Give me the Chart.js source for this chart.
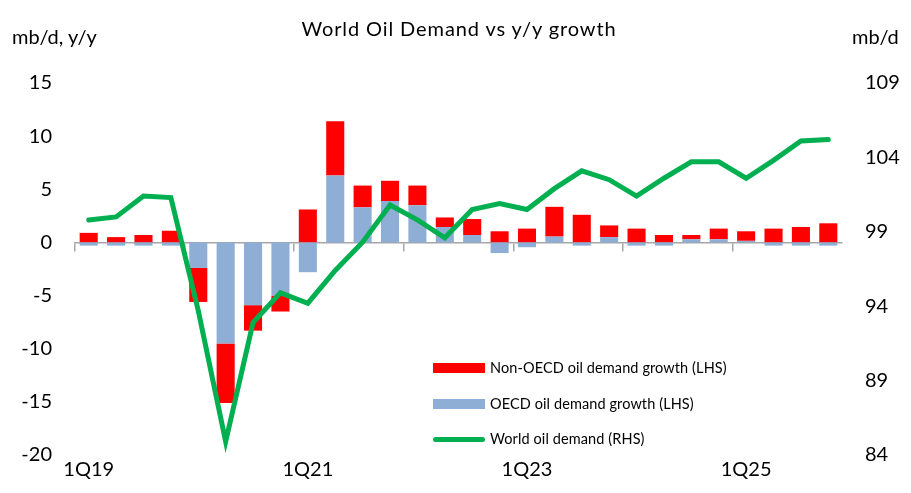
<!DOCTYPE html>
<html>
<head>
<meta charset="utf-8">
<title>World Oil Demand vs y/y growth</title>
<script src="https://cdn.jsdelivr.net/npm/chart.js@4.4.1/dist/chart.umd.min.js"></script>
<style>
    html, body { margin: 0; padding: 0; background: #fff; }
    #wrap { position: relative; width: 911px; height: 493px; font-family: Lato, 'Open Sans', sans-serif; color: #000; }
    #chart { position: absolute; left: 0; top: 0; }
    .lbl { position: absolute; white-space: nowrap; }
    #title { left: 0; width: 918px; text-align: center; top: 16px; font-size: 20px; letter-spacing: 0.9px; }
    #unitL { left: 12px; top: 24px; font-size: 20px; }
    #unitR { left: 852px; top: 24px; font-size: 20px; }
    .leg { position: absolute; left: 433px; height: 20px; font-size: 14.5px; letter-spacing: 0.1px; }
    .leg .sw { position: absolute; left: 0; width: 52px; }
    .leg span { position: absolute; left: 57px; top: 0; line-height: 20px; white-space: nowrap; }
</style>
</head>
<body>
<div id="wrap">
    <canvas id="chart" width="911" height="493"></canvas>
    <div class="lbl" id="title">World Oil Demand vs y/y growth</div>
    <div class="lbl" id="unitL">mb/d, y/y</div>
    <div class="lbl" id="unitR">mb/d</div>
    <div class="leg" style="top:358px"><div class="sw" style="top:5px;height:10px;background:#FF0000"></div><span>Non-OECD oil demand growth (LHS)</span></div>
    <div class="leg" style="top:394px"><div class="sw" style="top:5px;height:10px;background:#8EAED6"></div><span>OECD oil demand growth (LHS)</span></div>
    <div class="leg" style="top:429px"><div class="sw" style="top:8px;height:5px;border-radius:3px;background:#00B050"></div><span>World oil demand (RHS)</span></div>
</div>
<script>
// Data
const quarters = [
    '1Q19', '2Q19', '3Q19', '4Q19', '1Q20', '2Q20', '3Q20', '4Q20',
    '1Q21', '2Q21', '3Q21', '4Q21', '1Q22', '2Q22', '3Q22', '4Q22',
    '1Q23', '2Q23', '3Q23', '4Q23', '1Q24', '2Q24', '3Q24', '4Q24',
    '1Q25', '2Q25', '3Q25', '4Q25'
];
const oecdGrowth = [
    -0.3, -0.3, -0.3, -0.3, -2.4, -9.5, -5.9, -5.0,
    -2.8, 6.3, 3.3, 3.9, 3.5, 1.45, 0.7, -1.0,
    -0.45, 0.55, -0.3, 0.5, -0.3, -0.3, 0.3, 0.3,
    0.15, -0.3, -0.3, -0.3
];
const nonOecdGrowth = [
    0.9, 0.5, 0.7, 1.1, -3.2, -5.6, -2.4, -1.5,
    3.1, 5.1, 2.05, 1.9, 1.85, 0.9, 1.5, 1.05,
    1.3, 2.8, 2.6, 1.1, 1.3, 0.7, 0.4, 1.0,
    0.9, 1.3, 1.45, 1.8
];
const worldDemand = [
    99.8, 100.0, 101.4, 101.3, 93.7, 84.9, 92.9, 94.9,
    94.2, 96.4, 98.3, 100.8, 99.8, 98.6, 100.5, 100.9,
    100.5, 101.9, 103.1, 102.5, 101.4, 102.6, 103.7, 103.7,
    102.6, 103.8, 105.1, 105.2
];
const leftTicks = [-20, -15, -10, -5, 0, 5, 10, 15];
const rightTicks = [84, 89, 94, 99, 104, 109];

const axisGrey = '#A6A6A6';
const tickFont = { family: "Lato, 'Open Sans', sans-serif", size: 20 };

const chart = new Chart(document.getElementById('chart'), {
    type: 'bar',
    data: {
        labels: quarters,
        datasets: [
            {
                type: 'line',
                label: 'World oil demand (RHS)',
                data: worldDemand,
                yAxisID: 'y2',
                borderColor: '#00B050',
                borderWidth: 5,
                borderJoinStyle: 'miter',
                borderCapStyle: 'round',
                pointRadius: 0,
                tension: 0,
                fill: false,
                order: 0
            },
            {
                label: 'OECD oil demand growth (LHS)',
                data: oecdGrowth,
                backgroundColor: '#8EAED6',
                yAxisID: 'y',
                stack: 'g',
                order: 1
            },
            {
                label: 'Non-OECD oil demand growth (LHS)',
                data: nonOecdGrowth,
                backgroundColor: '#FF0000',
                yAxisID: 'y',
                stack: 'g',
                order: 1
            }
        ]
    },
    options: {
        responsive: false,
        animation: false,
        devicePixelRatio: 1,
        layout: { padding: { top: 83, left: 0, right: 0, bottom: 0 } },
        datasets: {
            bar: { barPercentage: 0.66, categoryPercentage: 1 }
        },
        plugins: {
            legend: { display: false },
            title: { display: false },
            tooltip: { enabled: false }
        },
        scales: {
            x: {
                stacked: true,
                grid: { display: false, drawTicks: false },
                border: { display: false },
                ticks: {
                    autoSkip: false,
                    maxRotation: 0,
                    padding: 3,
                    color: '#000',
                    font: tickFont,
                    callback: function(val, index) {
                        return index % 8 === 0 ? this.getLabelForValue(val) : '';
                    }
                },
                afterFit: function(scale) { scale.height = 38; }
            },
            // zero line with yearly tick marks
            x2: {
                type: 'category',
                position: { y: 0 },
                offset: true,
                grid: {
                    offset: true,
                    drawOnChartArea: false,
                    drawTicks: true,
                    tickLength: 8,
                    lineWidth: 1.5,
                    color: function(ctx) { return ctx.index % 4 === 0 ? axisGrey : 'transparent'; }
                },
                border: { display: true, color: axisGrey, width: 1.5 },
                ticks: { display: false }
            },
            y: {
                position: 'left',
                stacked: true,
                min: leftTicks[0],
                max: leftTicks[leftTicks.length - 1],
                grid: { display: false, drawTicks: false },
                border: { display: false },
                ticks: {
                    stepSize: leftTicks[1] - leftTicks[0],
                    padding: 23,
                    color: '#000',
                    font: tickFont
                },
                afterFit: function(scale) { scale.width = 75; }
            },
            y2: {
                position: 'right',
                min: rightTicks[0],
                max: rightTicks[rightTicks.length - 1],
                grid: { display: false, drawTicks: false },
                border: { display: false },
                ticks: {
                    stepSize: rightTicks[1] - rightTicks[0],
                    padding: 23,
                    color: '#000',
                    font: tickFont
                },
                afterFit: function(scale) { scale.width = 69; }
            }
        }
    }
});
</script>
</body>
</html>
